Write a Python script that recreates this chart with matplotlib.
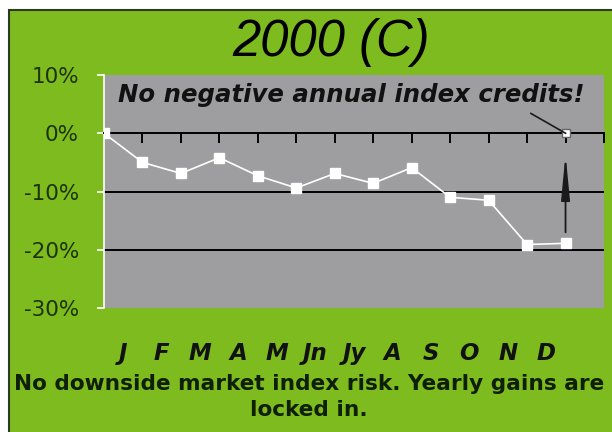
import numpy as np
import matplotlib
matplotlib.use("Agg")
import matplotlib.pyplot as plt
from matplotlib.patches import Rectangle
from matplotlib.transforms import blended_transform_factory

#------------- data -------------#
months = ['J', 'F', 'M', 'A', 'M', 'Jn', 'Jy', 'A', 'S', 'O', 'N', 'D']
index_change = [0, -5.0, -6.9, -4.2, -7.3, -9.4, -6.9, -8.6, -5.9, -11.0, -11.5, -19.1, -18.9]
credit_value = 0          # year end credit, floored at zero
y_ticks = [10, 0, -10, -20, -30]
y_labels = ['10%', '0%', '-10%', '-20%', '-30%']

green = '#7dbb1f'
gray = '#9e9d9f'
label_col = '#1d3207'


def main():
    fig = plt.figure(figsize=(6.12, 4.32), dpi=100)
    fig.patch.set_facecolor('white')

    # green panel behind everything
    fig.patches.append(Rectangle((9 / 612, -0.01), 1.0, 1 - 10 / 432 + 0.01,
                                 transform=fig.transFigure, facecolor=green,
                                 edgecolor='#2b3a22', linewidth=1.5, zorder=-10))

    ax = fig.add_axes([104 / 612, 1 - 308 / 432, 500 / 612, 233 / 432])
    ax.set_zorder(1)
    ax.set_facecolor(gray)

    x = np.arange(len(index_change))
    ax.set_xlim(0, len(months) + 1)
    ax.set_ylim(-30, 10)

    # grid lines at -10 and -20
    for g in (-10, -20):
        ax.axhline(g, color='black', linewidth=1.4, zorder=1)

    # the month axis sits on the 0% line, ticks pointing down
    for s in ('top', 'right'):
        ax.spines[s].set_visible(False)
    ax.spines['bottom'].set_position(('data', 0))
    ax.spines['bottom'].set_linewidth(1.4)
    ax.spines['left'].set_color('white')
    ax.spines['left'].set_linewidth(1.2)
    ax.set_xticks(np.arange(1, len(months) + 2))
    ax.tick_params(axis='x', direction='out', length=7, width=1.4,
                   color='black', labelbottom=False)

    ax.set_yticks(y_ticks)
    ax.set_yticklabels(y_labels, fontsize=15.5, color=label_col, family='DejaVu Sans')
    ax.tick_params(axis='y', direction='out', length=5, width=1.2, color='white', pad=13)

    ax.plot(x, index_change, color='white', linewidth=1.2, marker='s',
            markersize=7, markerfacecolor='white', markeredgecolor='white', zorder=3)
    ax.plot([x[-1]], [credit_value], marker='s', markersize=6,
            markerfacecolor='white', markeredgecolor='#666666', linestyle='none', zorder=4)

    # arrow lifting the year end value back to zero
    ax.annotate('', xy=(x[-1], -3.6), xytext=(x[-1], -17.0),
                arrowprops=dict(arrowstyle='-|>,head_length=2.7,head_width=0.26',
                                color='#1a1a1a', linewidth=1.3,
                                shrinkA=0, shrinkB=0), zorder=5)

    ax.text(0.36, 6.6, 'No negative annual index credits!', fontsize=17.6,
            fontweight='bold', style='italic', family='DejaVu Sans',
            color='#111111', va='center', ha='left', zorder=5)
    ax.plot([11.1, x[-1]], [3.4, credit_value], color='#1a1a1a', linewidth=1.2, zorder=5)

    # month names below the panel
    trans = blended_transform_factory(ax.transData, ax.transAxes)
    for i, m in enumerate(months):
        ax.text(i + 0.5, -0.195, m, transform=trans, fontsize=16.5, fontweight='bold',
                style='italic', family='DejaVu Sans', color='#111111',
                ha='center', va='center', clip_on=False)

    fig.text(0.541, 0.902, '2000 (C)', fontsize=36.5, style='italic',
             family='Liberation Sans', color='black', ha='center', va='center')

    fig.text(0.505, 0.081, 'No downside market index risk. Yearly gains are\nlocked in.',
             fontsize=15.6, fontweight='bold', family='DejaVu Sans', color='#0f1f05',
             ha='center', va='center', linespacing=1.35)

    fig.savefig('out.png', dpi=100, facecolor=fig.get_facecolor())


if __name__ == "__main__":
    main()
